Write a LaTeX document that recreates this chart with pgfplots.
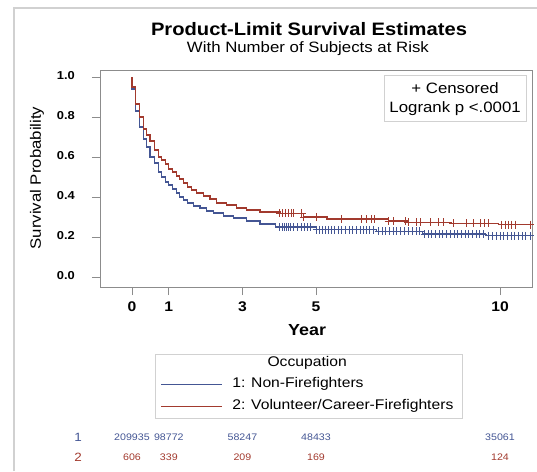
\documentclass[border=0pt]{standalone}
\usepackage{pgfplots}
\pgfplotsset{compat=1.18}
\usepackage{fontspec}
\setmainfont{Liberation Sans}[FakeStretch=1.12]
\definecolor{sasblue}{HTML}{445694}
\definecolor{sasred}{HTML}{A23A2E}
\definecolor{framegray}{gray}{0.82}
\definecolor{axisgray}{gray}{0.55}
\newcommand{\fs}[1]{\fontsize{#1bp}{#1bp}\selectfont}

\begin{document}
\begin{tikzpicture}
\begin{axis}[scale only axis,width=432bp,height=217bp,
  xmin=-0.87,xmax=10.87,ymin=-0.05,ymax=1.035,clip=false,
  axis line style={axisgray,line width=0.8bp},
  tick style={axisgray,line width=0.8bp},tick align=outside,major tick length=8bp,
  xtick pos=bottom,ytick pos=left,
  xtick={0,1,3,5,10},xticklabels={0,1,3,5,10},
  ytick={0,0.2,0.4,0.6,0.8,1},yticklabels={0.0,0.2,0.4,0.6,0.8,1.0},
  /pgf/number format/assume math mode=true,
  typeset ticklabels with strut,
  xticklabel style={font=\bfseries\fs{14},anchor=north,inner sep=0pt,yshift=-6bp},
  yticklabel style={font=\bfseries\fs{11.5},anchor=east,inner sep=0pt,xshift=-17bp},
]
% Kaplan-Meier steps, group 1
\addplot[const plot,sasblue,line width=1.2bp] coordinates {
(0,1.0)(0,0.94)(0.10,0.83)(0.20,0.75)(0.31,0.69)(0.40,0.65)(0.49,0.60)(0.61,0.57)
(0.715,0.525)(0.81,0.50)(0.92,0.475)(1.0,0.46)(1.1,0.44)(1.21,0.42)(1.30,0.40)
(1.39,0.385)(1.50,0.37)(1.67,0.355)(1.85,0.345)(2.03,0.33)(2.21,0.32)(2.48,0.305)
(2.76,0.295)(3.12,0.28)(3.48,0.265)(3.90,0.25)(5.01,0.236)(6.65,0.228)(7.90,0.215)
(9.60,0.206)(10.87,0.206)};
% group 2
\addplot[const plot,sasred,line width=1.2bp] coordinates {
(0,1.0)(0,0.95)(0.10,0.865)(0.20,0.80)(0.31,0.74)(0.40,0.71)(0.49,0.68)(0.61,0.635)
(0.715,0.60)(0.81,0.585)(0.92,0.565)(1.0,0.54)(1.1,0.525)(1.21,0.505)(1.30,0.49)
(1.39,0.47)(1.50,0.45)(1.62,0.435)(1.76,0.42)(1.94,0.405)(2.12,0.39)(2.30,0.37)
(2.57,0.36)(2.85,0.345)(3.12,0.335)(3.48,0.325)(4.02,0.318)(4.66,0.30)(5.30,0.29)
(6.97,0.28)(7.50,0.273)(8.69,0.268)(9.95,0.262)(10.87,0.262)};
% censored
\addplot[only marks,mark=+,mark size=4bp,sasblue,mark options={line width=1bp}] coordinates {
(4.02,0.25)(4.08,0.25)(4.14,0.25)(4.20,0.25)(4.26,0.25)(4.32,0.25)(4.40,0.25)(4.50,0.25)
(4.60,0.25)(4.68,0.25)(4.76,0.25)(4.85,0.25)
(5.02,0.236)(5.10,0.236)(5.18,0.236)(5.26,0.236)(5.34,0.236)(5.42,0.236)(5.50,0.236)
(5.60,0.236)(5.70,0.236)(5.80,0.236)(5.90,0.236)(6.00,0.236)(6.10,0.236)(6.20,0.236)
(6.30,0.236)(6.38,0.236)(6.46,0.236)(6.55,0.236)
(6.70,0.228)(6.80,0.228)(6.90,0.228)(7.00,0.228)(7.10,0.228)(7.20,0.228)(7.30,0.228)
(7.40,0.228)(7.52,0.228)(7.62,0.228)(7.72,0.228)(7.82,0.228)
(7.95,0.215)(8.05,0.215)(8.15,0.215)(8.25,0.215)(8.35,0.215)(8.45,0.215)(8.55,0.215)
(8.65,0.215)(8.75,0.215)(8.85,0.215)(8.95,0.215)(9.05,0.215)(9.15,0.215)(9.25,0.215)
(9.35,0.215)(9.45,0.215)(9.55,0.215)
(9.70,0.206)(9.80,0.206)(9.90,0.206)(10.00,0.206)(10.10,0.206)(10.20,0.206)(10.30,0.206)
(10.40,0.206)(10.50,0.206)(10.60,0.206)(10.70,0.206)(10.82,0.206)};
\addplot[only marks,mark=+,mark size=4bp,sasred,mark options={line width=1bp}] coordinates {
(4.02,0.318)(4.09,0.318)(4.16,0.318)(4.25,0.318)(4.34,0.318)(4.38,0.318)(4.61,0.318)
(4.67,0.30)(5.02,0.30)(5.70,0.29)(6.24,0.29)(6.38,0.29)(6.51,0.29)(6.60,0.29)
(6.97,0.28)(7.10,0.28)(7.42,0.28)(7.51,0.273)(7.74,0.273)(7.83,0.273)(8.10,0.273)
(8.32,0.273)(8.46,0.273)(8.73,0.268)(9.09,0.268)(9.27,0.268)(9.46,0.268)(9.59,0.268)
(9.68,0.268)(10.05,0.262)(10.14,0.262)(10.23,0.262)(10.32,0.262)(10.41,0.262)(10.82,0.262)};

% inset box
\draw[framegray,line width=1bp,fill=white] (axis cs:6.85,0.78) rectangle (axis cs:10.71,1.01);
\node[font=\fs{15}] at (axis cs:8.78,0.945) {+ Censored};
\node[font=\fs{15}] at (axis cs:8.78,0.84) {Logrank p <.0001};

% titles and labels
\node[font=\bfseries\fs{18}] at (axis cs:4.81,1.24) {Product-Limit Survival Estimates};
\node[font=\fs{15}] at (axis cs:4.78,1.14) {With Number of Subjects at Risk};
\node[font=\fs{15},rotate=90] at (axis cs:-2.58,0.495) {Survival Probability};
\node[font=\bfseries\fs{16}] at (axis cs:4.76,-0.265) {Year};

% legend
\draw[framegray,line width=1bp] (axis cs:0.625,-0.385) rectangle (axis cs:8.97,-0.705);
\node[font=\fs{14}] at (axis cs:4.76,-0.43) {Occupation};
\draw[sasblue,line width=1bp] (axis cs:0.79,-0.535) -- (axis cs:2.45,-0.535);
\draw[sasred,line width=1bp] (axis cs:0.79,-0.645) -- (axis cs:2.45,-0.645);
\node[font=\fs{14},anchor=west,inner sep=0pt] at (axis cs:2.72,-0.535) {1: Non-Firefighters};
\node[font=\fs{14},anchor=west,inner sep=0pt] at (axis cs:2.72,-0.645) {2: Volunteer/Career-Firefighters};

% number at risk
\node[font=\fs{12},text=sasblue] at (axis cs:-1.467,-0.80) {1};
\node[font=\fs{12},text=sasred] at (axis cs:-1.467,-0.90) {2};
\node[font=\fs{9.5},text=sasblue,inner sep=0pt] at (axis cs:0,-0.80) {209935};
\node[font=\fs{9.5},text=sasblue,inner sep=0pt] at (axis cs:1,-0.80) {98772};
\node[font=\fs{9.5},text=sasblue,inner sep=0pt] at (axis cs:3,-0.80) {58247};
\node[font=\fs{9.5},text=sasblue,inner sep=0pt] at (axis cs:5,-0.80) {48433};
\node[font=\fs{9.5},text=sasblue,inner sep=0pt] at (axis cs:10,-0.80) {35061};
\node[font=\fs{9.5},text=sasred,inner sep=0pt] at (axis cs:0,-0.90) {606};
\node[font=\fs{9.5},text=sasred,inner sep=0pt] at (axis cs:1,-0.90) {339};
\node[font=\fs{9.5},text=sasred,inner sep=0pt] at (axis cs:3,-0.90) {209};
\node[font=\fs{9.5},text=sasred,inner sep=0pt] at (axis cs:5,-0.90) {169};
\node[font=\fs{9.5},text=sasred,inner sep=0pt] at (axis cs:10,-0.90) {124};

% outer frame
\draw[framegray,line width=1.5bp] (axis cs:-3.207,-0.97) -- (axis cs:-3.207,1.345) -- (axis cs:11.005,1.345);
\coordinate (bbsw) at (axis cs:-3.587,-0.97);
\coordinate (bbne) at (axis cs:11.005,1.385);
\end{axis}
\pgfresetboundingbox
\path (bbsw) rectangle (bbne);
\end{tikzpicture}
\end{document}
